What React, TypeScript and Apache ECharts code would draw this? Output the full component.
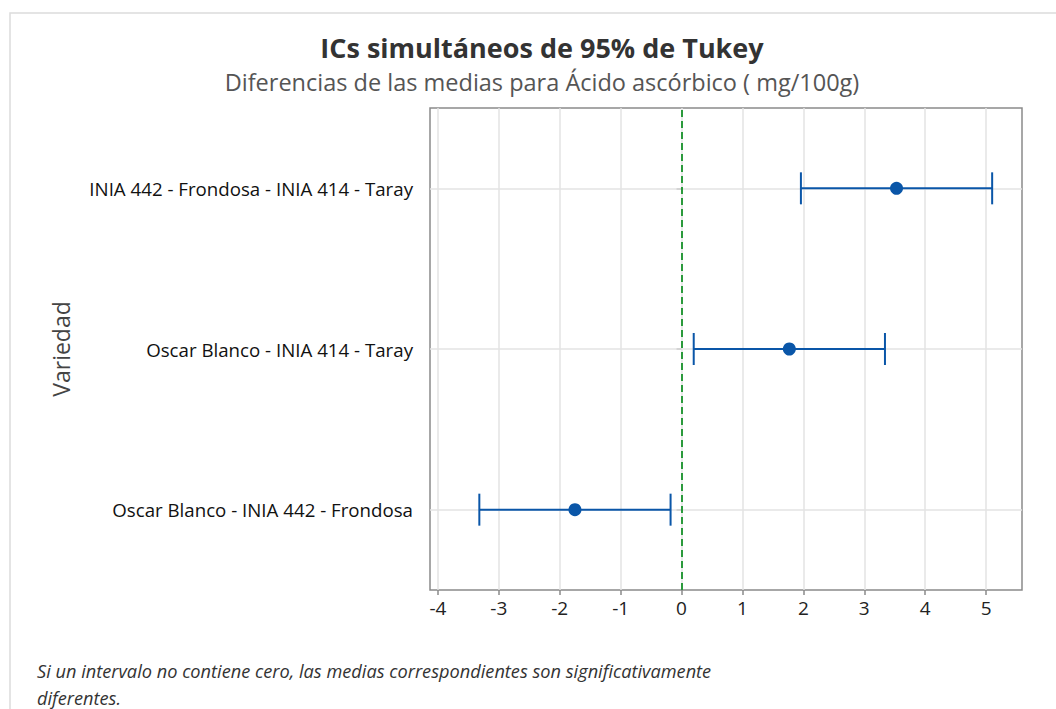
import React, { useEffect, useRef } from "react";
import * as echarts from "echarts";

const categories = [
  "Oscar Blanco - INIA 442 - Frondosa",
  "Oscar Blanco - INIA 414 - Taray",
  "INIA 442 - Frondosa - INIA 414 - Taray",
];
const means = [-1.75, 1.77, 3.53];
const lowers = [-3.32, 0.2, 1.96];
const uppers = [-0.18, 3.34, 5.1];
const xTicks = [-4, -3, -2, -1, 0, 1, 2, 3, 4, 5];

const title = "ICs simultáneos de 95% de Tukey";
const subtitle = "Diferencias de las medias para Ácido ascórbico ( mg/100g)";
const yName = "Variedad";
const footLines = [
  "Si un intervalo no contiene cero, las medias correspondientes son significativamente",
  "diferentes.",
];

const BLUE = "#0a56a8";
const FONT = "'Open Sans', 'Noto Sans', sans-serif";

export default function App() {
  const ref = useRef<HTMLDivElement>(null);
  useEffect(() => {
    if (!ref.current) return;
    const chart = echarts.init(ref.current, undefined, { renderer: "svg" });
    const errData = categories.map((_, i) => [i, lowers[i], uppers[i]]);
    const meanData = categories.map((_, i) => [means[i], i]);
    chart.setOption({
      animation: false,
      backgroundColor: "#ffffff",
      textStyle: { fontFamily: FONT },
      title: [
        {
          text: title,
          left: 537,
          top: 29,
          textAlign: "center",
          textStyle: { fontSize: 27, fontWeight: "bold", color: "#333", fontFamily: FONT },
        },
        {
          text: subtitle,
          left: 537,
          top: 65,
          textAlign: "center",
          textStyle: { fontSize: 23.5, fontWeight: "normal", color: "#555", fontFamily: FONT },
        },
      ],
      grid: {
        left: 430,
        right: 34,
        top: 108,
        bottom: 119,
        show: true,
        borderColor: "#8a8a8a",
        borderWidth: 1.5,
        backgroundColor: "transparent",
      },
      xAxis: {
        type: "value",
        min: -4.13,
        max: 5.59,
        splitNumber: 10,
        minInterval: 1,
        maxInterval: 1,
        axisLine: { show: false },
        axisTick: {
          show: true,
          length: 5,
          lineStyle: { color: "#8a8a8a", width: 1.5 },
          customValues: xTicks,
        },
        axisLabel: {
          customValues: xTicks,
          fontSize: 19,
          color: "#222",
          margin: 8,
          fontFamily: FONT,
        },
        splitLine: { show: true, lineStyle: { color: "#e3e3e3", width: 1.5 } },
      },
      yAxis: {
        type: "category",
        data: categories,
        boundaryGap: true,
        name: yName,
        nameLocation: "middle",
        nameGap: 358,
        nameRotate: 90,
        nameTextStyle: { fontSize: 23, color: "#444", fontFamily: FONT },
        axisLine: { show: false },
        axisTick: { show: true, alignWithLabel: true, length: 5, lineStyle: { color: "#8a8a8a", width: 1.5 } },
        axisLabel: { fontSize: 18.7, color: "#111", margin: 17, fontFamily: FONT },
        splitLine: { show: false },
      },
      series: [
        {
          type: "scatter",
          data: [],
          z: 1,
          silent: true,
          markLine: {
            silent: true,
            z: 1,
            symbol: "none",
            label: { show: false },
            emphasis: { disabled: true },
            lineStyle: { color: "#e3e3e3", width: 1.5, type: "solid" },
            data: categories.map((_, i) => ({ yAxis: i })),
          },
        },
        {
          type: "scatter",
          data: [],
          z: 2,
          silent: true,
          markLine: {
            silent: true,
            z: 2,
            symbol: "none",
            label: { show: false },
            emphasis: { disabled: true },
            lineStyle: { color: "#2b9a3c", width: 2, type: [7, 4] },
            data: [{ xAxis: 0 }],
          },
        },
        {
          type: "custom",
          z: 3,
          data: errData,
          encode: { x: [1, 2], y: 0 },
          renderItem: (params: any, api: any) => {
            const idx = api.value(0);
            const lo = api.coord([api.value(1), idx]);
            const hi = api.coord([api.value(2), idx]);
            const h = 16;
            const style = { stroke: BLUE, lineWidth: 2 };
            return {
              type: "group",
              children: [
                { type: "line", shape: { x1: lo[0], y1: lo[1], x2: hi[0], y2: hi[1] }, style },
                { type: "line", shape: { x1: lo[0], y1: lo[1] - h, x2: lo[0], y2: lo[1] + h }, style },
                { type: "line", shape: { x1: hi[0], y1: hi[1] - h, x2: hi[0], y2: hi[1] + h }, style },
              ],
            };
          },
        },
        {
          type: "scatter",
          z: 4,
          data: meanData,
          symbol: "circle",
          symbolSize: 13,
          itemStyle: { color: BLUE, opacity: 1 },
        },
      ],
      graphic: [
        {
          type: "rect",
          shape: { x: 10, y: 13, width: 1200, height: 900 },
          style: { fill: "none", stroke: "#dcdcdc", lineWidth: 1.5 },
          silent: true,
          z: -1,
        },
        ...footLines.map((t, i) => ({
          type: "text",
          x: 37,
          y: 671 + i * 27,
          style: {
            text: t,
            fontSize: 18.2,
            fontStyle: "italic",
            fill: "#333",
            fontFamily: FONT,
            verticalAlign: "middle",
          },
        })),
      ],
    });
    return () => chart.dispose();
  }, []);
  return (
    <div
      ref={ref}
      style={{ position: "absolute", left: 0, top: 0, width: 1056, height: 709 }}
    />
  );
}
